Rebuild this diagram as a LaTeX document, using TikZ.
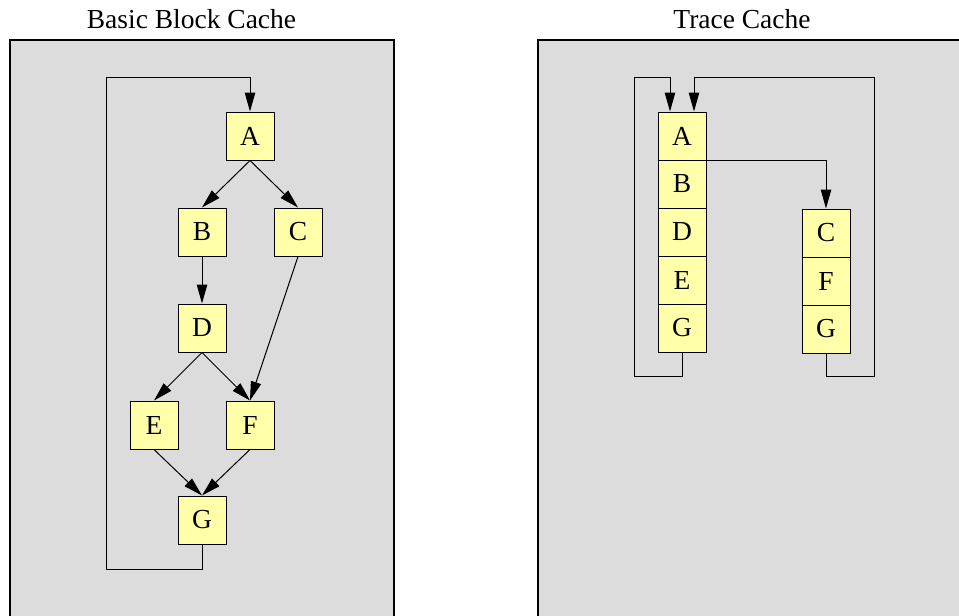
\documentclass[tikz,border=0pt]{standalone}
\usepackage{fontspec}
\setmainfont{Liberation Serif}
\usetikzlibrary{arrows.meta}
\definecolor{panelgray}{RGB}{220,220,220}
\definecolor{blockyellow}{RGB}{255,255,170}

\begin{document}
\begin{tikzpicture}[x=1pt,y=-1pt,
    font=\fontsize{27.5}{33}\selectfont,
    blk/.style={draw,line width=1pt,fill=blockyellow,minimum size=48pt,inner sep=0pt},
    arr/.style={line width=1pt,-{Triangle[length=19pt,width=10.5pt]}},
    rim/.style={line width=1.2pt}]
    \useasboundingbox (0,0) rectangle (959,616);
    %(1) basic blocks
    \begin{scope}[shift={(10,40)}]
      \fill[panelgray] (0,0) rectangle (384,576);
      \draw[rim] (0,576) -- (0,0) -- (384,0) -- (384,576);
      \node[anchor=base] (bTitle) at (181.5,-12) {Basic Block Cache};
      \node[blk] (bA) at (240,96) {A};
      \node[blk] (bB) at (192,192) {B};
      \node[blk] (bC) at (288,192) {C};
      \node[blk] (bD) at (192,288) {D};
      \node[blk] (bE) at (144,385) {E};
      \node[blk] (bF) at (240,385) {F};
      \node[blk] (bG) at (192,480) {G};
      \coordinate (bLoopS) at (96,529);
      \coordinate (bLoopN) at (96,37);
      \draw[arr] (bA.south) -- (bB.north);
      \draw[arr] (bA.south) -- (bC.north);
      \draw[arr] (bB.south) -- (bD.north);
      \draw[arr] (bC.south) -- (bF.north);
      \draw[arr] (bD.south) -- (bE.north);
      \draw[arr] (bD.south) -- (bF.north);
      \draw[arr] (bE.south) -- (bG.north);
      \draw[arr] (bF.south) -- (bG.north);
      \draw[arr] (bG.south) |- (bLoopS) -- (bLoopN) -| (bA.north);
    \end{scope}
    %(2) traces
    \begin{scope}[shift={(538,40)}]
      \fill[panelgray] (0,0) rectangle (421,576);
      \draw[rim] (0,576) -- (0,0) -- (421,0);
      \node[anchor=base] (tTitle) at (204,-12) {Trace Cache};
      \node[blk] (tA) at (144,96) {A};
      \node[blk] (tB) at (144,144) {B};
      \node[blk] (tD) at (144,192) {D};
      \node[blk] (tE) at (144,240) {E};
      \node[blk] (tG) at (144,288) {G};
      \node[blk] (tC) at (288,193) {C};
      \node[blk] (tF) at (288,241) {F};
      \node[blk] (tGG) at (288,289) {G};
      \coordinate (tLoopSW) at (96,336);
      \coordinate (tLoopNW) at (96,37);
      \coordinate (tLoopSE) at (336,336);
      \coordinate (tLoopNE) at (336,37);
      \draw[arr] (tA.south east) -| (tC.north);
      \draw[arr] (tG.south) |- (tLoopSW) -- (tLoopNW) -| ([xshift=-12pt]tA.north);
      \draw[arr] (tGG.south) |- (tLoopSE) -- (tLoopNE) -| ([xshift=12pt]tA.north);
    \end{scope}
\end{tikzpicture}
\end{document}
